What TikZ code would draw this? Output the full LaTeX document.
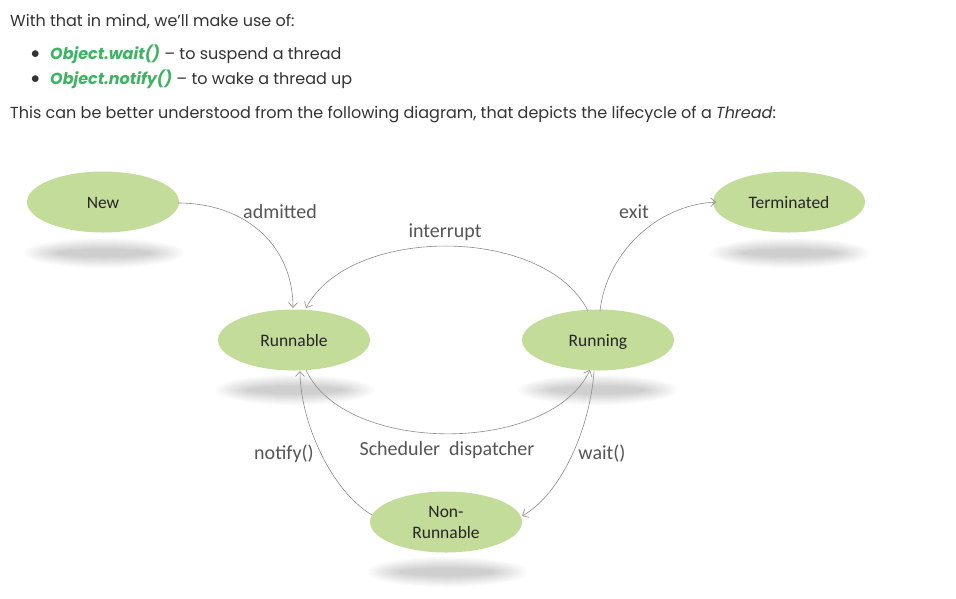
\documentclass[tikz,border=0pt]{standalone}
\usepackage{fontspec}
\setmainfont{Poppins}
\newfontfamily\calib{Carlito}
\newfontfamily\bulletfont{Lato}
\usetikzlibrary{shapes.geometric,arrows.meta}
\definecolor{nodegreen}{RGB}{196,220,153}
\definecolor{edgegray}{RGB}{140,140,140}
\definecolor{labgray}{RGB}{85,85,85}
\definecolor{linkgreen}{RGB}{60,180,100}
\definecolor{bodytext}{RGB}{51,51,51}
\tikzset{
  state/.style={ellipse, fill=nodegreen, minimum width=152pt, minimum height=61pt, inner sep=0pt, align=center, font=\calib\fontsize{17.5}{21}\selectfont, text=black!85},
  oneline/.style={text height=14pt, text depth=2pt},
  conn/.style={draw=edgegray, line width=0.6pt, -{Straight Barb[length=5pt,width=9pt]}},
  lab/.style={font=\calib\fontsize{20}{24}\selectfont, text=labgray, anchor=base},
  body/.style={anchor=base west, font=\fontsize{16}{19}\selectfont, text=bodytext, inner sep=0pt},
  bul/.style={anchor=base west, font=\bulletfont\fontsize{18}{19}\selectfont, text=bodytext, inner sep=0pt},
  shadowpart/.style={fill=black, fill opacity=0.015, draw=none}
}
\newcommand{\stateshadow}[2]{%
  \foreach \rx/\ry in {80/15,77/14,74/13,71/12,68/11,65/10,62/9,59/8,56/7,53/6,50/5,47/4}{\fill[shadowpart] (#1,#2) ellipse [x radius=\rx pt, y radius=\ry pt];}%
}
\begin{document}
\begin{tikzpicture}[x=1pt,y=-1pt]
\useasboundingbox (0,0) rectangle (956,598);
\fill[white] (0,0) rectangle (956,598);

% text block
\node[body] (t1) at (10,26) {With that in mind, we'll make use of:};
\node[bul] (b1) at (30,59) {\textbullet};
\node[body] (l1) at (50,59) {\textcolor{linkgreen}{\textbf{\textit{Object.wait()}}} -- to suspend a thread};
\node[bul] (b2) at (30,84) {\textbullet};
\node[body] (l2) at (50,84) {\textcolor{linkgreen}{\textbf{\textit{Object.notify()}}} -- to wake a thread up};
\node[body] (t2) at (10,118) {This can be better understood from the following diagram, that depicts the lifecycle of a \textit{Thread}:};

% shadows
\stateshadow{104}{253}
\stateshadow{790}{253}
\stateshadow{295}{390}
\stateshadow{598}{390}
\stateshadow{447}{572}

% states
\node[state, oneline] (new) at (103,202) {New};
\node[state, oneline] (term) at (789,202) {Terminated};
\node[state, oneline] (runnable) at (294,340) {Runnable};
\node[state, oneline] (running) at (598,340) {Running};
\node[state] (nonrun) at (446,522) {Non-\\Runnable};

% connector endpoints
\coordinate (newE) at (178,203);
\coordinate (rbTop1) at (293,308);
\coordinate (rbTop2) at (306,308);
\coordinate (rnTop1) at (588,311);
\coordinate (rnTop2) at (600,311);
\coordinate (termW) at (716,202);
\coordinate (rbBot1) at (300,371);
\coordinate (rbBot2) at (306,370);
\coordinate (rnBot1) at (590,370);
\coordinate (rnBot2) at (594,371);
\coordinate (nrW) at (372,515);
\coordinate (nrE) at (522,516);

\draw[conn] (newE) .. controls (245,203) and (293,245) .. (rbTop1);
\draw[conn] (rnTop1) .. controls (545,225) and (350,225) .. (rbTop2);
\draw[conn] (rbBot2) .. controls (345,455) and (550,455) .. (rnBot1);
\draw[conn] (rnTop2) .. controls (606,255) and (655,205) .. (termW);
\draw[conn] (rnBot2) .. controls (590,430) and (560,495) .. (nrE);
\draw[conn] (nrW) .. controls (330,490) and (300,420) .. (rbBot1);

% labels
\node[lab] (la) at (280,218) {admitted};
\node[lab] (li) at (445,237) {interrupt};
\node[lab] (ls) at (447,455) {Scheduler\ \ dispatcher};
\node[lab] (le) at (634,218) {exit};
\node[lab] (lw) at (602,459) {wait()};
\node[lab] (ln) at (284,459) {notify()};
\end{tikzpicture}
\end{document}
